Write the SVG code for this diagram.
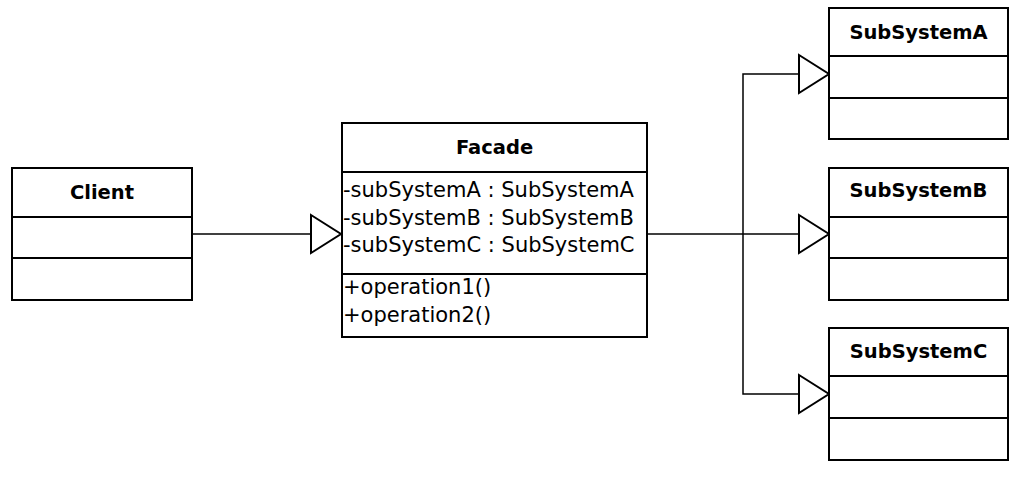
<svg xmlns="http://www.w3.org/2000/svg" width="1023" height="482" viewBox="0 0 1023 482">
<style>
.box{fill:#fff;stroke:#000;stroke-width:2}
.div{stroke:#000;stroke-width:2}
.title{font-family:"DejaVu Sans",sans-serif;font-weight:bold;font-size:19.5px;text-anchor:middle;fill:#000}
.attr{font-family:"DejaVu Sans",sans-serif;font-size:21px;fill:#000}
.conn{fill:none;stroke:#000;stroke-width:1.5}
.tri{fill:#fff;stroke:#000;stroke-width:2;stroke-linejoin:miter}
</style>
<rect width="1023" height="482" fill="#fff"/>
<g id="connectors">
  <line class="conn" x1="192" y1="234" x2="311" y2="234"/>
  <polygon class="tri" points="311,215 341,234 311,253"/>
  <polyline class="conn" points="647,234 799,234"/>
  <polyline class="conn" points="799,74 743,74 743,394 799,394"/>
  <polygon class="tri" points="799,55 829,74 799,93"/>
  <polygon class="tri" points="799,215 829,234 799,253"/>
  <polygon class="tri" points="799,375 829,394 799,413"/>
</g>
<g id="client">
  <rect class="box" x="12" y="168" width="180" height="132"/>
  <line class="div" x1="12" y1="217" x2="192" y2="217"/>
  <line class="div" x1="12" y1="258" x2="192" y2="258"/>
  <text class="title" x="102" y="199">Client</text>
</g>
<g id="facade">
  <rect class="box" x="342" y="123" width="305" height="214"/>
  <line class="div" x1="342" y1="172" x2="647" y2="172"/>
  <line class="div" x1="342" y1="274" x2="647" y2="274"/>
  <text class="title" x="494.5" y="154">Facade</text>
  <text class="attr" x="343" y="197">-subSystemA : SubSystemA</text>
  <text class="attr" x="343" y="224.5">-subSystemB : SubSystemB</text>
  <text class="attr" x="343" y="252">-subSystemC : SubSystemC</text>
  <text class="attr" x="343" y="294">+operation1()</text>
  <text class="attr" x="343" y="322">+operation2()</text>
</g>
<g id="subsystemA">
  <rect class="box" x="829" y="8" width="179" height="131"/>
  <line class="div" x1="829" y1="56" x2="1008" y2="56"/>
  <line class="div" x1="829" y1="98" x2="1008" y2="98"/>
  <text class="title" x="918.5" y="39">SubSystemA</text>
</g>
<g id="subsystemB">
  <rect class="box" x="829" y="168" width="179" height="132"/>
  <line class="div" x1="829" y1="217" x2="1008" y2="217"/>
  <line class="div" x1="829" y1="258" x2="1008" y2="258"/>
  <text class="title" x="918.5" y="197">SubSystemB</text>
</g>
<g id="subsystemC">
  <rect class="box" x="829" y="328" width="179" height="132"/>
  <line class="div" x1="829" y1="376" x2="1008" y2="376"/>
  <line class="div" x1="829" y1="418" x2="1008" y2="418"/>
  <text class="title" x="918.5" y="358">SubSystemC</text>
</g>
</svg>
